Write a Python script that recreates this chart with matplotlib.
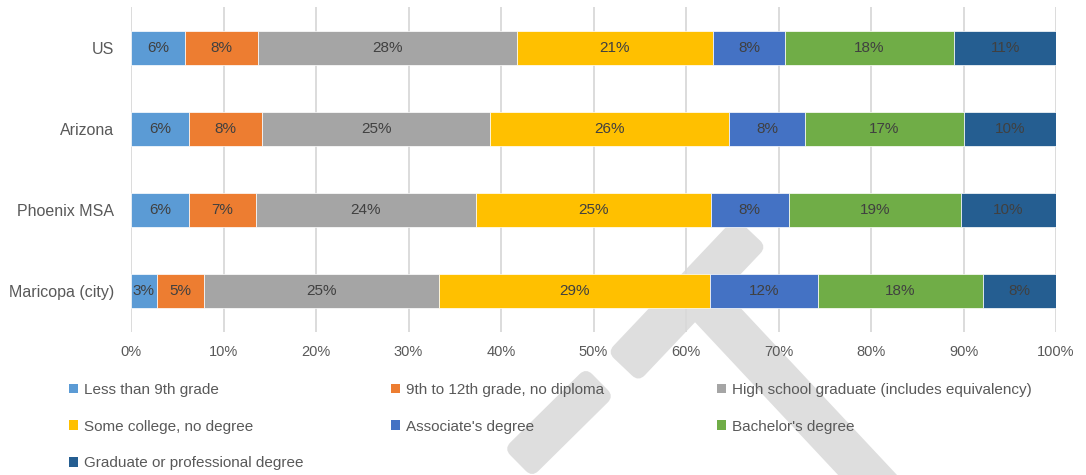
import matplotlib
matplotlib.use("Agg")
import matplotlib.pyplot as plt
from matplotlib.patches import FancyBboxPatch, Patch
from matplotlib.transforms import Affine2D
import numpy as np

plt.rcParams["font.family"] = ["Liberation Sans", "DejaVu Sans"]

# Educational attainment, share of population 25+ (percent)
places = ["US", "Arizona", "Phoenix MSA", "Maricopa (city)"]
levels = [
    "Less than 9th grade",
    "9th to 12th grade, no diploma",
    "High school graduate (includes equivalency)",
    "Some college, no degree",
    "Associate's degree",
    "Bachelor's degree",
    "Graduate or professional degree",
]
less_than_9th = [5.8, 6.3, 6.3, 2.8]
grade_9_to_12 = [7.9, 7.9, 7.2, 5.1]
high_school = [28.0, 24.6, 23.8, 25.4]
some_college = [21.2, 25.8, 25.4, 29.3]
associates = [7.8, 8.3, 8.4, 11.7]
bachelors = [18.3, 17.1, 18.6, 17.8]
graduate = [11.0, 10.0, 10.3, 7.9]
series = [less_than_9th, grade_9_to_12, high_school, some_college,
          associates, bachelors, graduate]
colors = ["#5B9BD5", "#ED7D31", "#A5A5A5", "#FFC000",
          "#4472C4", "#70AD47", "#255E91"]
x_ticks = [0, 10, 20, 30, 40, 50, 60, 70, 80, 90, 100]

W, H = 1086, 475
fig = plt.figure(figsize=(W / 100, H / 100), dpi=100)

# light hammer mark in the background (pixel coordinates, y downward)
bg = fig.add_axes([0, 0, 1, 1], zorder=0)
bg.set_xlim(0, W)
bg.set_ylim(H, 0)
bg.axis("off")


def band(p0, p1, width, radius=9, color="#dedede"):
    (x0, y0), (x1, y1) = p0, p1
    length = np.hypot(x1 - x0, y1 - y0)
    ang = np.arctan2(y1 - y0, x1 - x0)
    box = FancyBboxPatch((-length / 2 + radius, -width / 2 + radius),
                         length - 2 * radius, width - 2 * radius,
                         boxstyle=f"round,pad={radius},rounding_size={radius}",
                         facecolor=color, edgecolor="none")
    box.set_transform(Affine2D().rotate(ang).translate((x0 + x1) / 2, (y0 + y1) / 2)
                      + bg.transData)
    bg.add_patch(box)


band((699, 295), (905, 515), 43)          # handle
band((751, 232), (623, 367), 43)          # head
band((600, 382), (518, 463), 40)          # lower piece

# stacked bars
ax = fig.add_axes([131 / W, 1 - 332 / H, 925 / W, 325 / H], zorder=1)
ax.set_facecolor("none")
y = np.arange(len(places))
left = np.zeros(len(places))
for vals, col, name in zip(series, colors, levels):
    vals = np.array(vals)
    bars = ax.barh(y, vals, left=left, height=0.42, color=col,
                   edgecolor="white", linewidth=0.5, label=name, zorder=3)
    ax.bar_label(bars, labels=[f"{v:.0f}%" for v in vals], label_type="center",
                 color="#404040", fontsize=11)
    left += vals

ax.set_xlim(0, 100)
ax.set_ylim(-0.5, len(places) - 0.5)
ax.invert_yaxis()
ax.set_yticks(y)
ax.set_yticklabels(places, fontsize=11.5, color="#595959")
ax.set_xticks(x_ticks)
ax.set_xticklabels([f"{t}%" for t in x_ticks], fontsize=10.5, color="#595959")
ax.tick_params(axis="both", length=0)
ax.tick_params(axis="x", pad=9)
ax.tick_params(axis="y", pad=12)
for s in ax.spines.values():
    s.set_visible(False)
ax.grid(axis="x", color="#d9d9d9", linewidth=1.3, zorder=0)
ax.set_axisbelow(True)

# legend in three columns, rows read left to right
handles = [Patch(facecolor=c, edgecolor="none") for c in colors]
columns = [[0, 3, 6], [1, 4], [2, 5]]
col_x = [69, 391, 717]
for idx, cx in zip(columns, col_x):
    fig.legend([handles[i] for i in idx], [levels[i] for i in idx],
               loc="upper left", bbox_to_anchor=(cx / W, 1 - 383 / H),
               frameon=False, fontsize=11, labelcolor="#595959",
               handlelength=0.6, handleheight=0.6, handletextpad=0.35,
               labelspacing=1.48, borderpad=0, borderaxespad=0)

fig.savefig("out.png", dpi=100)
